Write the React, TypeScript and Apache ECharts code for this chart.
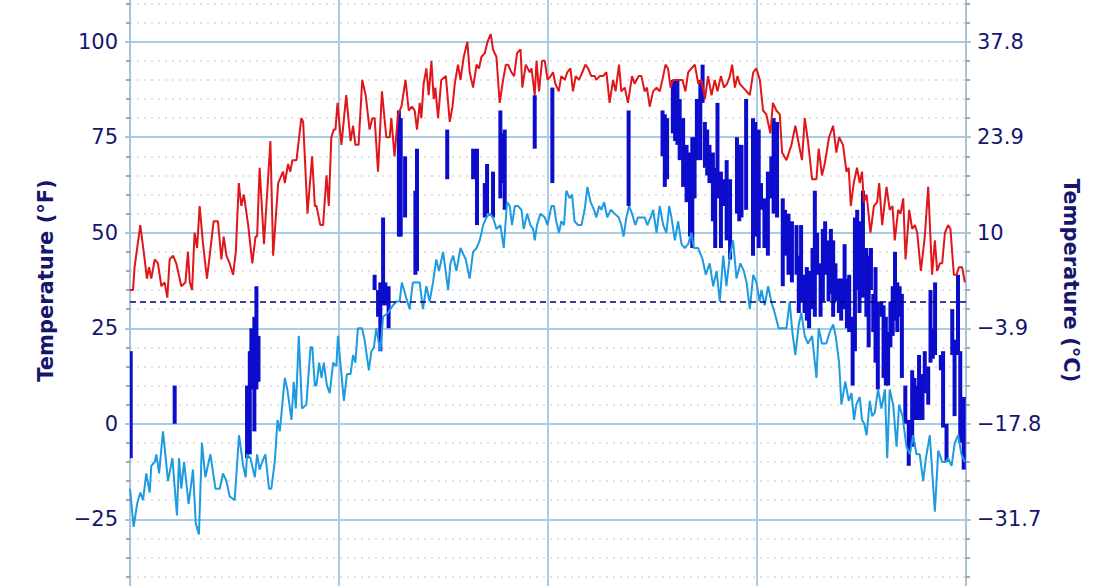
import React, { useEffect, useRef } from "react";
import * as echarts from "echarts";

// day of year (0..365) and daily high in °F
const highDays = [
  0, 1.3, 2, 4.5, 6.4, 7.4, 8.3, 9.3, 10.8, 12.2, 13.7, 15.1, 16.3, 17.3, 18.8, 20.2, 22.4, 24.2, 25.3, 26.1,
  27.1, 28.2, 29.3, 30.4, 31.9, 33.6, 34.8, 36.5, 38.4, 39.9, 40.9, 42.1, 43.5, 45, 46.2, 47.5, 48.6, 49.7, 51.6, 53.4,
  54.8, 55.5, 56.6, 58.5, 61.3, 62.5, 64.7, 66.8, 67.6, 69, 70, 70.9, 72.7, 74.8, 75.6, 77.5, 79.5, 80.7, 81.4, 83.1,
  84.3, 85.8, 86.8, 87.9, 89, 89.7, 90.6, 92.3, 94.4, 96.3, 97.4, 98.4, 99.8, 101.4, 102.9, 104.6, 105.8, 106.8, 108.3, 110,
  111.9, 113.4, 114.1, 115.5, 117, 118.5, 120.3, 121.7, 123.1, 124.3, 125.3, 126.5, 127.2, 128.2, 129.4, 130.4, 131.6, 132.6, 133.3, 134.5,
  135.9, 137.9, 139.6, 140.8, 141.8, 143.2, 144.3, 145.7, 147.3, 148.3, 149.8, 151.3, 152.4, 153.4, 154.9, 156.1, 157.5, 158.5, 160, 161.4,
  162.9, 164.1, 165.1, 166.5, 167.7, 169, 170.5, 171.3, 172.8, 174.5, 175.3, 176.7, 177.5, 178.6, 179.9, 181.1, 182.3, 183.7, 184.7, 185.7,
  187.2, 188.3, 189.8, 190.9, 192.3, 193.4, 194.6, 196, 197.5, 198.8, 200, 201.4, 202.9, 203.6, 205.1, 206.5, 208, 209.4, 210.9, 212,
  213.5, 214.5, 216, 217.4, 219.2, 220.3, 222.1, 223.3, 224.7, 225.7, 226.9, 228.4, 229.9, 231.3, 232.8, 233.8, 234.9, 236, 237.1, 238.6,
  240, 241.2, 242.5, 243.7, 245.1, 246.6, 248.1, 249.5, 251, 252.4, 253.9, 255.3, 256.5, 258, 259.3, 260.7, 261.9, 262.9, 264.1, 265.2,
  266.2, 267.7, 269.2, 270.6, 272.1, 273.5, 275, 276.4, 277.8, 279.6, 280.7, 282.2, 283.7, 284.7, 286.6, 288.8, 290.5, 292.4, 293.4, 294.6,
  296, 297.8, 299.7, 300.7, 302.1, 303.3, 305.2, 307, 308.4, 309.6, 311.3, 312.8, 313.8, 314.7, 316, 317.4, 318.6, 319.6, 320.4, 321.6,
  323.3, 324.8, 326.2, 327.1, 328.4, 330.3, 331.7, 332.9, 333.9, 335.4, 336.4, 337.6, 338.6, 340.2, 341.5, 342.7, 343.7, 345.3, 347, 348.5,
  350.2, 351.4, 352.4, 353.6, 354.6, 355.8, 357.2, 358.2, 359.7, 360.9, 361.9, 363.3, 364.5,
];
const highF = [
  35, 35, 41, 52, 43, 38, 41, 38, 43, 42, 36, 37, 33, 43, 44, 42, 36, 37, 45, 37,
  35, 50, 46, 57, 47, 38, 44, 53, 53, 43, 49, 44, 42, 39, 45, 63, 57, 60, 52, 42,
  49, 49, 67, 47, 74, 44, 63, 66, 63, 68, 66, 69, 69, 80, 79, 55, 70, 57, 57, 52,
  52, 65, 57, 75, 77, 77, 84, 73, 86, 74, 78, 73, 73, 90, 86, 77, 80, 80, 66, 87,
  75, 75, 80, 70, 81, 83, 90, 82, 83, 82, 77, 84, 80, 89, 93, 86, 95, 85, 88, 80,
  90, 91, 79, 83, 89, 94, 90, 96, 100, 92, 88, 94, 93, 96, 97, 100, 102, 98, 96, 84,
  90, 94, 94, 92, 91, 97, 98, 88, 94, 92, 93, 86, 95, 87, 95, 95, 90, 91, 92, 89,
  87, 91, 90, 92, 93, 87, 91, 90, 92, 94, 93, 91, 91, 90, 91, 91, 92, 84, 90, 87,
  94, 87, 88, 84, 91, 89, 91, 91, 87, 88, 83, 87, 88, 87, 91, 94, 93, 88, 90, 90,
  90, 90, 87, 92, 93, 94, 89, 90, 85, 91, 86, 90, 87, 91, 88, 89, 91, 94, 88, 91,
  89, 88, 87, 86, 92, 93, 90, 82, 81, 76, 84, 82, 81, 71, 69, 73, 78, 72, 69, 80,
  74, 64, 64, 72, 65, 68, 75, 78, 71, 75, 73, 66, 67, 57, 63, 67, 63, 66, 58, 60,
  50, 57, 58, 63, 52, 62, 56, 57, 48, 56, 55, 59, 43, 56, 51, 52, 50, 40, 49, 62,
  39, 48, 40, 42, 42, 50, 52, 51, 39, 39, 41, 41, 37,
];

// day of year and daily low in °F
const lowDays = [
  0, 1.6, 3.1, 4.5, 5.7, 7.1, 8.6, 9.3, 10.8, 11.5, 12.7, 14.4, 16.6, 18.5, 20.5, 21.4, 22.4, 23.6, 25.6, 27.5,
  28.7, 30.1, 31.4, 32.9, 35.1, 37.3, 39.2, 40.6, 42.1, 43.5, 45.7, 47.6, 49.4, 50.5, 51.1, 52.6, 54.5, 55.5, 56.6, 57.7,
  59.1, 60.7, 61.7, 63.2, 64.4, 65.4, 67.6, 68.7, 70.5, 71.5, 72.4, 73.7, 75.1, 77, 78.8, 79.6, 80.7, 81.4, 82.6, 83.6,
  84.6, 86, 87.2, 88.7, 90.1, 90.8, 92, 93.4, 94.7, 96.3, 97.4, 98.4, 99.5, 101.3, 102.4, 104.3, 105.4, 106.5, 107.5, 109.3,
  110.5, 112.6, 114.8, 116.3, 117.7, 118.7, 120.6, 122.1, 123.5, 125.3, 126.5, 127.9, 129.4, 130.8, 132.3, 133.7, 134.9, 136.7, 138.9, 139.9,
  141.1, 142.5, 144.3, 146.6, 148.3, 149.8, 151.3, 152.7, 154.2, 155.6, 157.1, 158.5, 160, 161.7, 163.2, 164.6, 165.8, 166.8, 168, 169.4,
  170.9, 171.9, 173.4, 174.8, 176, 176.7, 177.7, 179.2, 181.1, 182.3, 184, 185.1, 186.1, 187.3, 188.3, 189.5, 190.5, 192, 193, 194.1,
  195.6, 197.1, 198.5, 199.7, 201.1, 202.6, 203.6, 204.8, 205.8, 207, 208.4, 209.9, 211.6, 213.4, 214.5, 215.5, 216.7, 217.9, 219.2, 220.6,
  221.8, 223.3, 224.7, 225.9, 227.3, 228.4, 229.9, 231.3, 232.8, 234.2, 235.4, 236.4, 237.9, 239.3, 240.8, 242.2, 243.7, 245.1, 246.2, 248.1,
  250, 251.4, 253.1, 254.6, 256.1, 257.5, 259, 260.4, 261.9, 263.3, 264.8, 266.5, 268, 269.2, 270.6, 272.1, 273.5, 274.9, 275.7, 277.1,
  278.6, 280, 281.5, 283.2, 285.1, 286.6, 288, 289.2, 290.5, 292, 293.1, 294.6, 296, 297.8, 299.7, 300.7, 302.1, 304, 305.5, 307,
  308.1, 309.6, 310.6, 312.3, 313.8, 315, 316.1, 317.1, 318.6, 319.6, 320.6, 321.6, 323, 324, 325.2, 326.6, 328.1, 329.6, 330.6, 331.7,
  333.2, 334.7, 335.8, 337.3, 339, 340.5, 341.9, 343.4, 344.8, 346.3, 347.5, 349.2, 351.4, 352.9, 354.6, 356.1, 357.2, 358.7, 360.1, 361.6,
  363, 364.5,
];
const lowF = [
  -17, -27, -21, -18, -20, -13, -18, -11, -10, -8, -13, -2, -15, -9, -24, -9, -17, -10, -21, -12,
  -26, -29, -5, -14, -8, -17, -17, -13, -15, -19, -20, -3, -11, -14, -8, -9, -14, -8, -12, -10,
  -8, -17, -17, -10, 1, -2, 12, 9, 1, 11, 4, 23, 4, 5, 20, 20, 10, 10, 16, 12,
  16, 10, 8, 16, 15, 23, 15, 6, 13, 13, 18, 16, 25, 25, 22, 14, 19, 20, 25, 19,
  28, 29, 31, 32, 32, 37, 33, 30, 37, 37, 37, 30, 36, 32, 37, 43, 40, 45, 35, 42,
  44, 40, 46, 43, 38, 45, 46, 48, 52, 54, 55, 54, 51, 52, 46, 58, 57, 52, 57, 57,
  56, 51, 55, 52, 51, 48, 52, 55, 54, 52, 57, 57, 53, 50, 53, 52, 61, 59, 60, 53,
  52, 52, 56, 62, 58, 56, 54, 57, 56, 58, 54, 56, 55, 54, 52, 49, 54, 57, 55, 52,
  54, 54, 54, 52, 54, 56, 50, 57, 52, 50, 57, 54, 48, 53, 47, 46, 47, 50, 46, 46,
  43, 39, 42, 36, 40, 32, 44, 36, 44, 48, 38, 42, 40, 37, 30, 39, 37, 32, 35, 31,
  36, 32, 29, 25, 25, 25, 32, 24, 18, 26, 29, 23, 21, 23, 12, 25, 21, 21, 24, 26,
  23, 16, 5, 11, 6, 8, 1, 5, 7, 1, 0, -3, 6, 2, 3, 9, 4, 9, -9, 9,
  5, -6, 5, 2, -6, -8, -3, -8, -8, -15, -9, -3, -23, -7, -10, -10, -9, -11, -5, -3,
  -8, -10,
];

// dark blue daily range bars: day, bottom and top in °F
const barDays = [
  0.3, 19.5, 51.1, 52.3, 53, 54.3, 55.2, 56.1, 106.8, 108.3, 109.3, 110.5, 111.5, 112.9, 117.4, 118.2, 120.1, 124.6, 125.3, 138.5,
  149.8, 151.5, 154.9, 155.9, 158.5, 161.7, 162.5, 163.6, 176.7, 184.4, 217.7, 232.5, 233.5, 234.5, 237, 238, 239, 240, 241.5, 243,
  244.5, 245.5, 246.5, 247.5, 249, 250, 251, 252, 253, 254.5, 255.5, 256.5, 258, 259, 260.5, 262, 265, 266, 267, 269,
  272, 273, 274.5, 275.5, 277, 278.5, 280, 281, 282.5, 285, 286, 287.5, 289, 291, 292, 293, 294.5, 295.5, 296.5, 298,
  299, 300, 301.5, 302.5, 303.5, 305, 306, 307, 308, 309.5, 310.5, 312, 313, 314, 315.5, 316.5, 317.5, 318.5, 320, 321.5,
  322.5, 323.5, 324.5, 325.5, 326.5, 328, 329, 330, 331, 332, 333, 334, 335, 336, 337, 338.5, 340, 341.5, 342.5, 343.5,
  344.5, 346, 347, 348.5, 349.5, 350.5, 351.5, 354, 355, 356.5, 359, 360, 361.5, 362.5, 364,
];
const barLowF = [
  -9, 0, -9, -8, 9, -2, 9, 11, 35, 28, 19, 31, 31, 25, 49, 49, 54, 39, 40, 64,
  64, 52, 54, 55, 54, 59, 63, 56, 72, 63, 57, 70, 62, 64, 76, 74, 73, 69, 62, 58,
  49, 46, 59, 69, 69, 84, 67, 65, 63, 53, 46, 59, 46, 57, 48, 43, 55, 53, 54, 56,
  44, 49, 46, 56, 46, 44, 59, 55, 54, 36, 44, 39, 37, 39, 29, 32, 29, 27, 25, 30,
  28, 39, 28, 32, 39, 32, 34, 28, 32, 29, 27, 30, 25, 24, 10, 19, 35, 29, 33, 28,
  20, 35, 24, 16, 9, 28, 12, 10, 10, 20, 23, 27, 24, 28, 12, 0, -11, -6, 1, 1,
  1, 1, 8, 5, 16, 17, 18, 14, -1, -10, 18, 2, 18, -5, -12,
];
const barHighF = [
  19, 10, 10, 19, 25, 28, 36, 23, 39, 35, 37, 54, 37, 36, 82, 80, 70, 61, 72, 77,
  72, 72, 63, 68, 66, 82, 76, 77, 86, 88, 82, 82, 81, 80, 90, 90, 90, 85, 80, 73,
  71, 75, 75, 85, 90, 94, 79, 77, 73, 71, 67, 84, 66, 64, 69, 64, 75, 73, 73, 85,
  80, 79, 77, 63, 59, 66, 70, 80, 79, 59, 56, 55, 53, 52, 44, 52, 39, 41, 40, 46,
  61, 50, 42, 51, 53, 48, 51, 48, 42, 38, 38, 47, 38, 39, 28, 54, 56, 53, 61, 46,
  44, 46, 34, 41, 32, 32, 31, 28, 24, 32, 36, 45, 37, 36, 34, 10, 1, 14, 12, 10,
  18, 13, 19, 15, 35, 25, 37, 18, 19, 0, 30, 22, 39, 19, 7,
];

const FREEZING_F = 32;
const NAVY = "#16166e";

const fmtF = (v: number) => String(v).replace("-", "\u2212");
const fmtC = (v: number) => {
  let s = (((v - 32) * 5) / 9).toFixed(1);
  if (s.endsWith(".0")) s = s.slice(0, -2);
  return s.replace("-", "\u2212");
};

const App = () => {
  const chartRef = useRef<HTMLDivElement>(null);

  useEffect(() => {
    if (!chartRef.current) return;
    const chart = echarts.init(chartRef.current, null, { renderer: "svg" });

    const axisText = { color: NAVY, fontSize: 21, fontFamily: "DejaVu Sans" };
    const nameText = { color: NAVY, fontSize: 21, fontWeight: "bold", fontFamily: "DejaVu Sans" };
    const axisColor = "#a9c4d6";

    const yBase = {
      type: "value",
      min: -50,
      max: 125,
      interval: 25,
      nameLocation: "middle",
      nameTextStyle: nameText,
      axisLine: { show: true, lineStyle: { color: axisColor, width: 2 } },
      axisTick: { show: true, length: 5, lineStyle: { color: axisColor, width: 2 } },
      minorTick: { show: true, splitNumber: 5, length: 4, lineStyle: { color: "#8c8c8c", width: 1.5 } },
    };

    const options = {
      animation: false,
      // chart div is 720px tall and shifted 60px up, so the plot runs past the visible frame
      grid: { left: 130, right: 150, top: 6.2, bottom: 45.2 },
      xAxis: {
        type: "value",
        min: 0,
        max: 365,
        interval: 91.25,
        axisLine: { show: false },
        axisTick: { show: false },
        axisLabel: { show: false },
        splitLine: { show: true, lineStyle: { color: "#a9cbe3", width: 2 } },
      },
      yAxis: [
        {
          ...yBase,
          position: "left",
          name: "Temperature (°F)",
          nameGap: 74,
          nameRotate: 90,
          axisLabel: { ...axisText, margin: 12, showMinLabel: false, showMaxLabel: false, formatter: fmtF },
          splitLine: { show: true, lineStyle: { color: "#a9cbe3", width: 2 } },
          minorSplitLine: { show: true, lineStyle: { color: "#e3e3e3", type: [2, 5], width: 2 } },
        },
        {
          ...yBase,
          position: "right",
          name: "Temperature (°C)",
          nameGap: 94,
          nameRotate: -90,
          axisLabel: { ...axisText, margin: 11, showMinLabel: false, showMaxLabel: false, formatter: fmtC },
          splitLine: { show: false },
          minorSplitLine: { show: false },
        },
      ],
      series: [
        {
          type: "custom",
          clip: true,
          z: 1,
          data: barDays.map((d, i) => [d, barLowF[i], barHighF[i]]),
          encode: { x: 0, y: [1, 2] },
          renderItem: (params: any, api: any) => {
            const top = api.coord([api.value(0), api.value(2)]);
            const bot = api.coord([api.value(0), api.value(1)]);
            return {
              type: "rect",
              shape: { x: top[0] - 2, y: top[1], width: 4, height: bot[1] - top[1] },
              style: { fill: "#0c0ccc" },
            };
          },
        },
        {
          type: "line",
          z: 2,
          symbol: "none",
          data: lowDays.map((d, i) => [d, lowF[i]]),
          lineStyle: { color: "#1e9ae0", width: 2 },
          itemStyle: { color: "#1e9ae0" },
        },
        {
          type: "line",
          z: 3,
          symbol: "none",
          data: highDays.map((d, i) => [d, highF[i]]),
          lineStyle: { color: "#e0161a", width: 2 },
          itemStyle: { color: "#e0161a" },
          markLine: {
            silent: true,
            symbol: ["none", "none"],
            label: { show: false },
            lineStyle: { color: "#00007a", type: [6, 4], width: 1.5 },
            data: [{ yAxis: FREEZING_F }],
          },
        },
      ],
    };

    chart.setOption(options);
    return () => chart.dispose();
  }, []);

  return (
    <div style={{ position: "fixed", left: 0, top: 0, width: 1116, height: 586, overflow: "hidden", background: "#fff" }}>
      <div ref={chartRef} style={{ position: "absolute", left: 0, top: -60, width: 1116, height: 720 }} />
    </div>
  );
};

export default App;
